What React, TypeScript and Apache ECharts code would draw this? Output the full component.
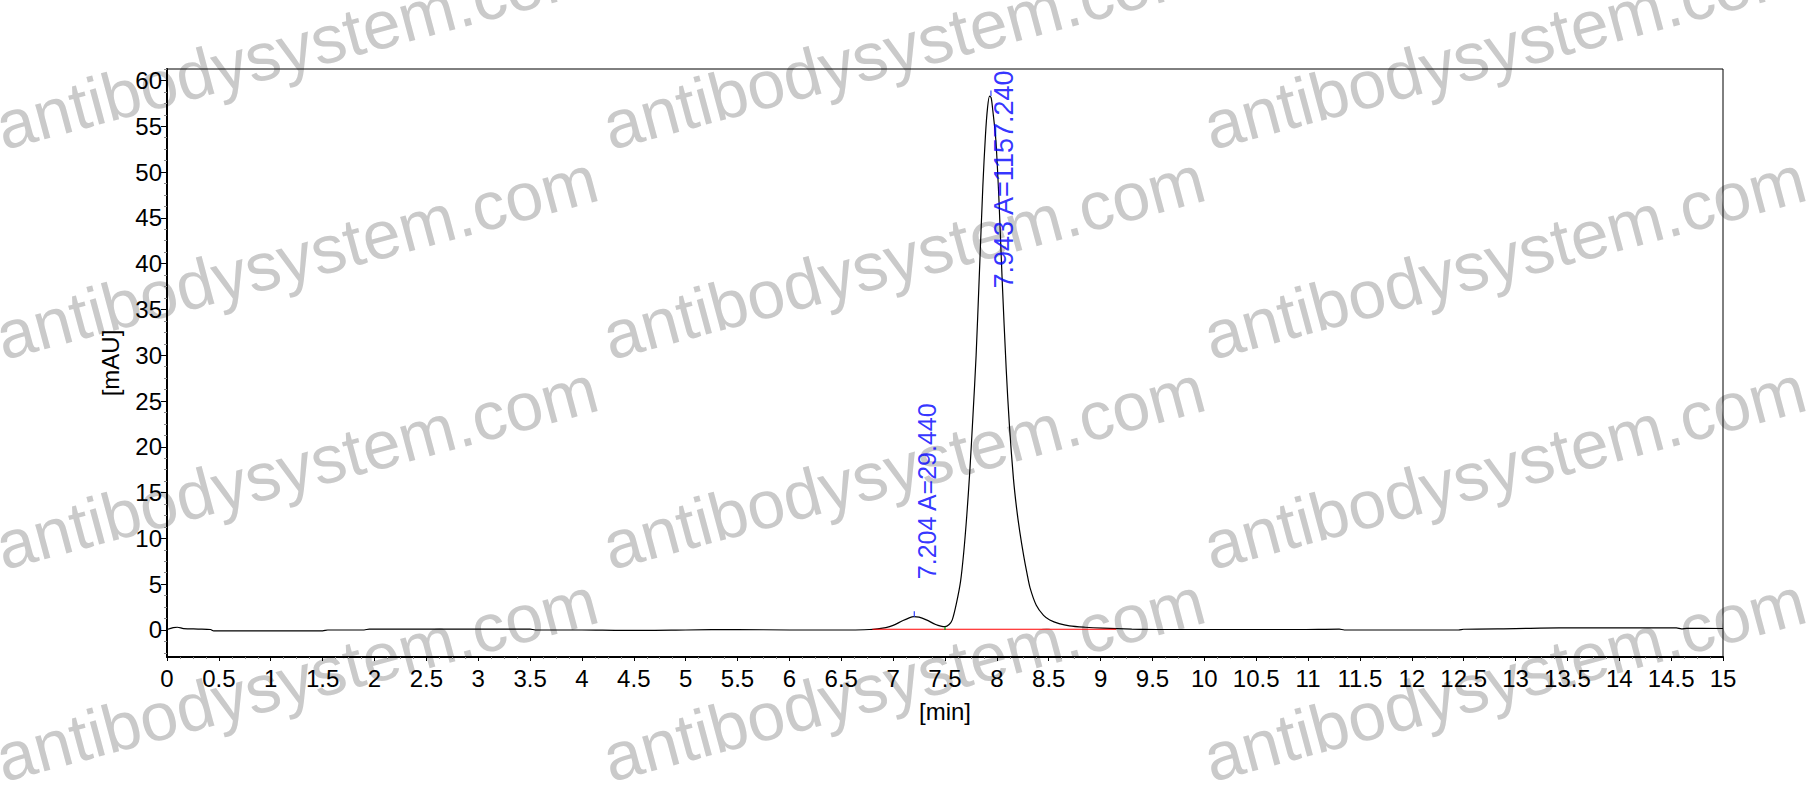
import React, { useEffect, useRef } from "react";
import * as echarts from "echarts";

// chromatogram trace: retention time [min] and signal [mAU]
const times = [
  0, 0.06, 0.1, 0.16, 0.3, 0.42, 0.45, 1.0, 1.5, 1.55, 1.9, 1.95, 2.5, 3.0,
  3.5, 3.55, 4.0, 4.4, 4.6, 5.0, 5.5, 6.0, 6.3, 6.6, 6.77, 6.85, 6.93, 7.0,
  7.09, 7.15, 7.2, 7.25, 7.32, 7.41, 7.46, 7.5, 7.54, 7.57, 7.61, 7.65, 7.68,
  7.71, 7.74, 7.77, 7.8, 7.83, 7.865, 7.89, 7.91, 7.93, 7.945, 7.96, 7.99,
  8.02, 8.05, 8.09, 8.12, 8.16, 8.19, 8.22, 8.26, 8.29, 8.32, 8.38, 8.45,
  8.51, 8.6, 8.7, 8.85, 9.02, 9.3, 9.6, 10.0, 10.5, 10.9, 11.3, 11.35, 11.8,
  12.45, 12.5, 13.0, 13.42, 14.0, 14.55, 14.6, 14.65, 15,
];
const signal = [
  0.05, 0.25, 0.3, 0.15, 0.1, 0.05, -0.1, -0.1, -0.1, 0.0, 0.0, 0.1, 0.1, 0.1,
  0.1, 0.0, 0.0, -0.05, -0.05, 0.0, 0.05, 0.0, 0.0, 0.0, 0.05, 0.12, 0.25, 0.5,
  1.0, 1.3, 1.45, 1.4, 1.1, 0.6, 0.42, 0.36, 0.6, 1.1, 2.9, 5.3, 8.4,
  12.5, 17.5, 23.5, 30.0, 38.5, 48.5, 54.0, 57.0, 58.3, 58.1, 56.8, 53.5,
  47.0, 38.5, 28.5, 22.5, 16.5, 13.3, 10.8, 8.0, 6.2, 4.6, 2.7, 1.6,
  1.1, 0.7, 0.45, 0.3, 0.2, 0.1, 0.05, 0.05, 0.05, 0.05, 0.1, 0.0, 0.0,
  0.0, 0.08, 0.15, 0.22, 0.22, 0.22, 0.12, 0.18, 0.16,
];

// integrated peaks
const peakTimes = [7.204, 7.943];
const peakAreas = [29.44, 1157.24];
const peakHeights = [1.45, 58.3];

// valley between the peaks and the integration baseline
const valleyTimes = [7.5];
const valleyHeights = [0.36];
const baselineTimes = [6.8, 9.15];
const baselineValues = [0.08, 0.08];

const yTickValues = [0, 5, 10, 15, 20, 25, 30, 35, 40, 45, 50, 55, 60];
const yMinorValues = [
  -2.5, -1.25, 1.25, 2.5, 3.75, 6.25, 7.5, 8.75, 11.25, 12.5, 13.75, 16.25,
  17.5, 18.75, 21.25, 22.5, 23.75, 26.25, 27.5, 28.75, 31.25, 32.5, 33.75,
  36.25, 37.5, 38.75, 41.25, 42.5, 43.75, 46.25, 47.5, 48.75, 51.25, 52.5,
  53.75, 56.25, 57.5, 58.75, 61.25,
];

const watermarkCols = [6, 613, 1214];
const watermarkRows = [160, 370, 580, 792];

const FONT = "'Liberation Sans', Arial, sans-serif";

const App: React.FC = () => {
  const chartRef = useRef<HTMLDivElement>(null);

  useEffect(() => {
    if (!chartRef.current) return;
    const chart = echarts.init(chartRef.current, undefined, { renderer: "svg" });

    const watermarks: any[] = [];
    watermarkRows.forEach((y) => {
      watermarkCols.forEach((x) => {
        watermarks.push({
          type: "text",
          x,
          y,
          rotation: (15 * Math.PI) / 180,
          z: -10,
          silent: true,
          style: {
            text: "antibodysystem.com",
            font: `68px ${FONT}`,
            fill: "#cacaca",
            align: "left",
            verticalAlign: "bottom",
          },
        });
      });
    });

    const option: echarts.EChartsOption = {
      animation: false,
      backgroundColor: "#fff",
      grid: {
        left: 167,
        right: 89,
        top: 69,
        bottom: 148,
        show: true,
        borderColor: "#000",
        borderWidth: 1,
        backgroundColor: "transparent",
      },
      graphic: watermarks,
      xAxis: {
        type: "value",
        min: 0,
        max: 15,
        interval: 0.5,
        name: "[min]",
        nameLocation: "middle",
        nameGap: 42,
        nameTextStyle: { fontFamily: FONT, fontSize: 24, color: "#000" },
        axisLine: { show: true, onZero: false, lineStyle: { color: "#000", width: 2 } },
        axisTick: { show: true, length: 4, lineStyle: { color: "#000" } },
        minorTick: { show: true, splitNumber: 4, length: 2, lineStyle: { color: "#888" } },
        axisLabel: { fontFamily: FONT, fontSize: 24, color: "#000", margin: 9 },
        splitLine: { show: false },
      },
      yAxis: [
        {
          type: "value",
          min: -2.95,
          max: 61.25,
          name: "[mAU]",
          nameLocation: "middle",
          nameGap: 45,
          nameTextStyle: { fontFamily: FONT, fontSize: 24, color: "#000" },
          axisLine: { show: true, lineStyle: { color: "#000", width: 2 } },
          axisTick: {
            show: true,
            length: 6,
            customValues: yTickValues,
            lineStyle: { color: "#000" },
          },
          axisLabel: {
            fontFamily: FONT,
            fontSize: 24,
            color: "#000",
            margin: 5,
            customValues: yTickValues,
          },
          splitLine: { show: false },
        },
        {
          type: "value",
          position: "left",
          min: -2.95,
          max: 61.25,
          axisLine: { show: false },
          axisTick: {
            show: true,
            length: 3,
            customValues: yMinorValues,
            lineStyle: { color: "#888" },
          },
          axisLabel: { show: false },
          splitLine: { show: false },
        },
      ],
      series: [
        {
          type: "line",
          name: "signal",
          data: times.map((t, i) => [t, signal[i]]),
          showSymbol: false,
          smooth: 0.3,
          lineStyle: { color: "#000", width: 1.2 },
          z: 3,
        },
        {
          type: "line",
          name: "baseline",
          data: baselineTimes.map((t, i) => [t, baselineValues[i]]),
          showSymbol: false,
          lineStyle: { color: "#ff0000", width: 1.2 },
          z: 4,
        },
        ...valleyTimes.map((t, i) => ({
          type: "line" as const,
          data: [
            [t, 0],
            [t, valleyHeights[i]],
          ],
          showSymbol: false,
          lineStyle: { color: "#00a000", width: 1.2 },
          z: 5,
        })),
        ...peakTimes.map((t, i) => ({
          type: "line" as const,
          data: [
            [t, peakHeights[i]],
            [t, peakHeights[i] + 0.6],
          ],
          showSymbol: false,
          lineStyle: { color: "#3040ff", width: 1.2 },
          z: 5,
        })),
        {
          type: "scatter",
          name: "peak labels",
          symbolSize: 1,
          itemStyle: { color: "transparent" },
          z: 6,
          data: peakTimes.map((t, i) => ({
            value: [t, peakHeights[i]],
            label: {
              show: true,
              position: "top",
              distance: i === 0 ? 37 : 25,
              rotate: 90,
              align: i === 0 ? "left" : "right",
              verticalAlign: "top",
              fontFamily: FONT,
              fontSize: i === 0 ? 25 : 27,
              color: "#0000ff",
              formatter: `${t.toFixed(3)} A=${peakAreas[i].toFixed(3)}`,
            },
          })),
        },
      ],
    };

    chart.setOption(option);
    return () => {
      chart.dispose();
    };
  }, []);

  return (
    <div
      ref={chartRef}
      style={{ position: "absolute", left: 0, top: 0, width: 1812, height: 805 }}
    />
  );
};

export default App;
